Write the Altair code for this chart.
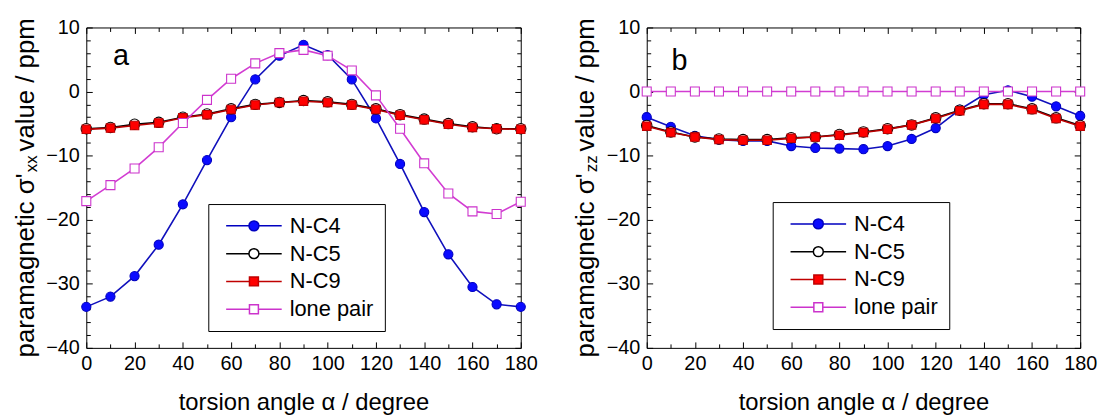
import altair as alt
import pandas as pd

FONT = "Liberation Sans"

angles = [0, 10, 20, 30, 40, 50, 60, 70, 80, 90, 100, 110, 120, 130, 140, 150, 160, 170, 180]
series = ["N-C4", "N-C5", "N-C9", "lone pair"]

# panel a : sigma'_xx
a_nc4 = [-33.6, -32.0, -28.8, -23.9, -17.6, -10.7, -4.0, 1.9, 5.6, 7.3, 5.7, 1.9, -4.2, -11.3, -18.8, -25.4, -30.5, -33.2, -33.6]
a_nc5 = [-5.8, -5.6, -5.1, -4.8, -4.0, -3.5, -2.7, -2.0, -1.7, -1.4, -1.6, -2.0, -2.7, -3.6, -4.3, -5.0, -5.5, -5.8, -5.8]
a_nc9 = [-5.9, -5.7, -5.3, -4.9, -4.1, -3.6, -2.8, -2.1, -1.7, -1.5, -1.7, -2.1, -2.8, -3.7, -4.4, -5.1, -5.6, -5.8, -5.9]
a_lp = [-17.1, -14.6, -12.0, -8.7, -4.9, -1.3, 2.0, 4.4, 6.0, 6.5, 5.6, 3.3, -0.6, -5.8, -11.2, -15.9, -18.7, -19.1, -17.2]

# panel b : sigma'_zz
b_nc4 = [-4.0, -5.5, -6.9, -7.5, -7.7, -7.7, -8.5, -8.8, -8.9, -9.0, -8.5, -7.4, -5.7, -2.8, -0.5, 0.2, -0.8, -2.3, -3.8]
b_nc5 = [-5.3, -6.3, -7.1, -7.4, -7.5, -7.5, -7.2, -7.1, -6.7, -6.3, -5.8, -5.2, -4.1, -2.9, -1.9, -1.9, -2.7, -4.1, -5.3]
b_nc9 = [-5.4, -6.4, -7.1, -7.5, -7.6, -7.6, -7.3, -7.1, -6.8, -6.4, -5.9, -5.2, -4.2, -3.0, -2.0, -2.0, -2.8, -4.2, -5.4]
b_lp = [0.0, 0.0, 0.0, 0.0, 0.0, 0.0, 0.0, 0.0, 0.0, 0.0, 0.0, 0.0, 0.0, 0.0, 0.0, 0.0, 0.0, 0.0, 0.0]

x_major = [0, 20, 40, 60, 80, 100, 120, 140, 160, 180]
x_minor = [10, 30, 50, 70, 90, 110, 130, 150, 170]
y_major = [-40, -30, -20, -10, 0, 10]
y_minor = [-38, -36, -34, -32, -28, -26, -24, -22, -18, -16, -14, -12, -8, -6, -4, -2, 2, 4, 6, 8]

line_colors = ["#1010bc", "#000000", "#b80000", "#d23cd2"]
pt_fill = ["#0a0aff", "#ffffff", "#ff0000", "#ffffff"]
pt_stroke = ["#0000c0", "#000000", "#c00000", "#cc33cc"]
pt_shape = ["circle", "circle", "square", "square"]
pt_size = [85, 110, 72, 82]

# legend symbols: line segment with marker in the middle (unit = 5 px)
legend_paths = [
    "M-5.6,0L-1,0M1,0L5.6,0M1,0A1,1,0,1,1,-1,0A1,1,0,1,1,1,0Z",
    "M-5.6,0L-1,0M1,0L5.6,0M1,0A1,1,0,1,1,-1,0A1,1,0,1,1,1,0Z",
    "M-5.6,0L-0.9,0M0.9,0L5.6,0M-0.9,-0.9L0.9,-0.9L0.9,0.9L-0.9,0.9Z",
    "M-5.6,0L-0.9,0M0.9,0L5.6,0M-0.9,-0.9L0.9,-0.9L0.9,0.9L-0.9,0.9Z",
]

W_A, W_B, H = 438, 437, 323


def x_axes(H):
    common = dict(grid=False, domain=False, tickColor="black", title=None)
    return [
        alt.Axis(orient="bottom", values=x_major, ticks=False, tickSize=0, domain=False, grid=False,
                 labelFont=FONT, labelFontSize=20, labelColor="black", labelPadding=6,
                 labelOverlap=False, labelFlush=False,
                 title="torsion angle α / degree", titleFont=FONT, titleFontSize=24,
                 titleFontWeight="normal", titleColor="black", titlePadding=17),
        alt.Axis(orient="top", offset=-H, values=x_major, tickSize=6, labels=False, **common),
        alt.Axis(orient="top", offset=-H, values=x_minor, tickSize=4, labels=False, **common),
        alt.Axis(orient="bottom", offset=-H, values=x_major, tickSize=6, labels=False, **common),
        alt.Axis(orient="bottom", offset=-H, values=x_minor, tickSize=4, labels=False, **common),
    ]


def y_axes(W):
    common = dict(grid=False, domain=False, tickColor="black", title=None)
    return [
        alt.Axis(orient="left", values=y_major, ticks=False, tickSize=0, domain=False, grid=False,
                 labelFont=FONT, labelFontSize=20, labelColor="black", labelPadding=7,
                 labelOverlap=False, labelFlush=False, title=None),
        alt.Axis(orient="right", offset=-W, values=y_major, tickSize=6, labels=False, **common),
        alt.Axis(orient="right", offset=-W, values=y_minor, tickSize=4, labels=False, **common),
        alt.Axis(orient="left", offset=-W, values=y_major, tickSize=6, labels=False, **common),
        alt.Axis(orient="left", offset=-W, values=y_minor, tickSize=4, labels=False, **common),
    ]


def text_layer(txt, x, y, size, angle=0, align="left", baseline="alphabetic"):
    return alt.Chart(pd.DataFrame({"t": [txt]})).mark_text(
        align=align, baseline=baseline, angle=angle, fontSize=size, font=FONT, color="black"
    ).encode(text="t:N", x=alt.value(x), y=alt.value(y))


def panel(values, W, letter, letter_xy, sub, legend_xy):
    xs = x_axes(H)
    ys = y_axes(W)
    layers = []
    k = 0
    for i, s in enumerate(series):
        df = pd.DataFrame({"angle": angles, "value": values[i], "series": s})
        for kind in ("line", "point"):
            xa = xs[k] if k < len(xs) else None
            ya = ys[k] if k < len(ys) else None
            k += 1
            enc = dict(
                x=alt.X("angle:Q", scale=alt.Scale(domain=[0, 180], nice=False, zero=False), axis=xa),
                y=alt.Y("value:Q", scale=alt.Scale(domain=[-40, 10], nice=False, zero=False), axis=ya),
            )
            if kind == "line":
                m = alt.Chart(df).mark_line(color=line_colors[i], strokeWidth=1.6)
            else:
                m = alt.Chart(df).mark_point(shape=pt_shape[i], size=pt_size[i], filled=True,
                                             fill=pt_fill[i], stroke=pt_stroke[i],
                                             strokeWidth=1.1, opacity=1)
            layers.append(m.encode(**enc))

    leg = alt.Legend(orient="none", legendX=legend_xy[0], legendY=legend_xy[1], title=None,
                     strokeColor="black", fillColor="white", padding=11, cornerRadius=0,
                     symbolSize=100, symbolStrokeWidth=1.5, labelFont=FONT, labelFontSize=22,
                     labelColor="black", labelOffset=25, symbolOffset=24, rowPadding=6,
                     labelLimit=400, labelExpr="datum.label + '  '")
    leg_df = pd.DataFrame({"series": series})
    legend_layer = alt.Chart(leg_df).transform_filter("false").mark_point(opacity=1, filled=False).encode(
        stroke=alt.Stroke("series:N", scale=alt.Scale(domain=series, range=pt_stroke), legend=leg),
        fill=alt.Fill("series:N", scale=alt.Scale(domain=series, range=pt_fill), legend=leg),
        shape=alt.Shape("series:N", scale=alt.Scale(domain=series, range=legend_paths), legend=leg),
    )
    layers.append(legend_layer)

    layers.append(text_layer(letter, letter_xy[0], letter_xy[1], 29))
    layers.append(text_layer("paramagnetic σ'", -61, 147, 26, angle=270, align="right", baseline="middle"))
    layers.append(text_layer(sub, -55, 146, 17, angle=270, align="left", baseline="middle"))
    layers.append(text_layer("value / ppm", -61, 125, 26, angle=270, align="left", baseline="middle"))

    return alt.layer(*layers).resolve_axis(x="independent", y="independent").properties(width=W, height=H)


pa = panel([a_nc4, a_nc5, a_nc9, a_lp], W_A, "a", (27, 38), "xx", (123, 178))
pb = panel([b_nc4, b_nc5, b_nc9, b_lp], W_B, "b", (25, 43), "zz", (127, 176))

chart = alt.hconcat(pa, pb, spacing=34).resolve_scale(
    stroke="independent", fill="independent", shape="independent"
).resolve_legend(
    stroke="independent", fill="independent", shape="independent"
).configure(
    padding={"left": 12, "top": 15, "right": 5, "bottom": 2}, font=FONT
).configure_view(stroke="black", strokeWidth=1)

chart.save("out.html", embed_options={"renderer": "svg", "actions": False})
